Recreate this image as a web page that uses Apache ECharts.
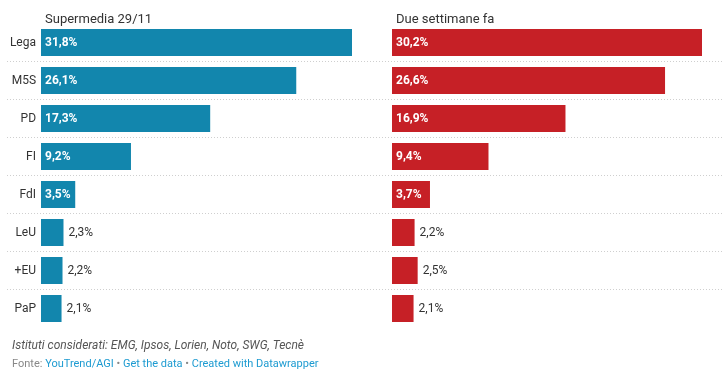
<!DOCTYPE html>
<html><head><meta charset="utf-8">
<script src="https://cdn.jsdelivr.net/npm/echarts@6/dist/echarts.min.js"></script>
<style>html,body{margin:0;padding:0;background:#fff}#c{width:724px;height:387px}</style>
</head><body><div id="c"></div>
<script>
const categories = ['Lega','M5S','PD','FI','FdI','LeU','+EU','PaP'];
const supermedia = [31.8, 26.1, 17.3, 9.2, 3.5, 2.3, 2.2, 2.1];
const dueSettimane = [30.2, 26.6, 16.9, 9.4, 3.7, 2.2, 2.5, 2.1];
const titleLeft = 'Supermedia 29/11';
const titleRight = 'Due settimane fa';

const FONT = 'Roboto, "Noto Sans", sans-serif';
const fmt = v => v.toFixed(1).replace('.', ',') + '%';
function items(vals) {
  return vals.map(v => ({
    value: v,
    label: v >= 3
      ? {position: 'insideLeft', distance: 4, color: '#fff', fontWeight: 'bold'}
      : {position: 'right', distance: 5, color: '#333', fontWeight: 'normal'}
  }));
}
const chart = echarts.init(document.getElementById('c'));
chart.setOption({
  animation: false,
  textStyle: {fontFamily: FONT},
  title: [
    {text: titleLeft, left: 40, top: 8, textStyle: {fontSize: 13, fontWeight: 'normal', color: '#333', fontFamily: FONT}},
    {text: titleRight, left: 391, top: 8, textStyle: {fontSize: 13, fontWeight: 'normal', color: '#333', fontFamily: FONT}},
    {text: 'Istituti considerati: EMG, Ipsos, Lorien, Noto, SWG, Tecnè', left: 7, top: 335,
     textStyle: {fontSize: 12, fontStyle: 'italic', fontWeight: 'normal', color: '#555', fontFamily: FONT}},
    {text: '{g|Fonte: }{b|YouTrend/AGI}{g| • }{b|Get the data}{g| • }{b|Created with Datawrapper}', left: 7, top: 354,
     textStyle: {fontSize: 11, fontWeight: 'normal', fontFamily: FONT,
       rich: {g: {color: '#888', fontSize: 11, fontFamily: FONT}, b: {color: '#1d9bd1', fontSize: 11, fontFamily: FONT}}}}
  ],
  grid: [
    {left: 41, width: 311, top: 23.5, height: 304},
    {left: 392, width: 310, top: 23.5, height: 304},
    {left: 7, right: 0, top: 61, height: 228}
  ],
  xAxis: [
    {gridIndex: 0, type: 'value', min: 0, max: Math.max(...supermedia), show: false},
    {gridIndex: 1, type: 'value', min: 0, max: Math.max(...dueSettimane), show: false},
    {gridIndex: 2, type: 'value', min: 0, max: 1, show: false}
  ],
  yAxis: [
    {gridIndex: 0, type: 'category', data: categories, inverse: true,
     axisLine: {show: false}, axisTick: {show: false}, splitLine: {show: false},
     axisLabel: {color: '#333', fontSize: 12, margin: 5, fontFamily: FONT}},
    {gridIndex: 1, type: 'category', data: categories, inverse: true,
     axisLine: {show: false}, axisTick: {show: false}, splitLine: {show: false}, axisLabel: {show: false}},
    {gridIndex: 2, type: 'value', min: 1, max: 7, interval: 1,
     axisLine: {show: false}, axisTick: {show: false}, axisLabel: {show: false},
     splitLine: {show: true, lineStyle: {color: '#cfcfcf', type: [1, 2], width: 1}}}
  ],
  series: [
    {type: 'bar', xAxisIndex: 0, yAxisIndex: 0, data: items(supermedia), barWidth: 27,
     itemStyle: {color: '#1286ad'}, label: {show: true, formatter: p => fmt(p.value), fontSize: 12, fontFamily: FONT}},
    {type: 'bar', xAxisIndex: 1, yAxisIndex: 1, data: items(dueSettimane), barWidth: 27,
     itemStyle: {color: '#c62026'}, label: {show: true, formatter: p => fmt(p.value), fontSize: 12, fontFamily: FONT}}
  ]
});
</script></body></html>
